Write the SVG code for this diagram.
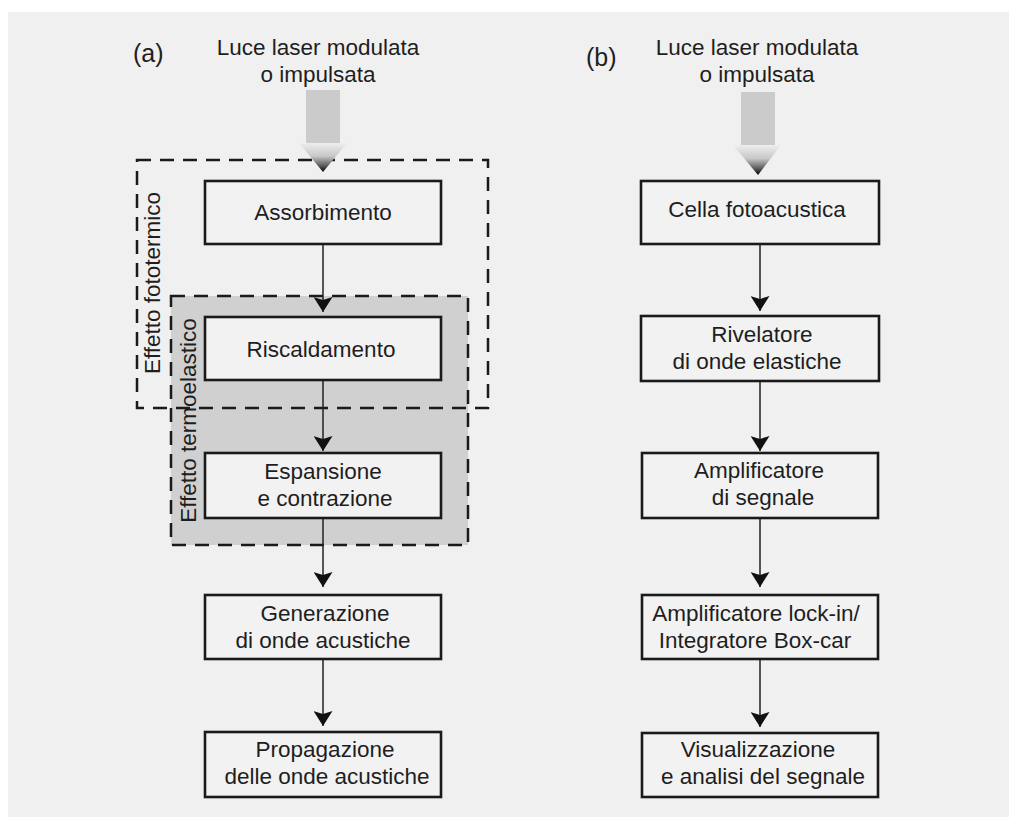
<svg xmlns="http://www.w3.org/2000/svg" width="1009" height="817" viewBox="0 0 1009 817">
<defs>
<style>
.t{font-family:"Liberation Sans",Arial,sans-serif;font-size:22.5px;fill:#1e1e1e;text-anchor:middle}
.lbl{font-family:"Liberation Sans",Arial,sans-serif;font-size:25px;fill:#1e1e1e}
.box{fill:#f2f2f2;stroke:#1a1a1a;stroke-width:2.6}
.dash{fill:none;stroke:#1a1a1a;stroke-width:2.5;stroke-dasharray:14 9}
.conn{stroke:#222;stroke-width:1.5;fill:none;marker-end:url(#ah)}
.shaft{fill:#cbcbcb}
</style>
<marker id="ah" viewBox="0 0 15 19" refX="15" refY="9.5" markerWidth="15" markerHeight="19" markerUnits="userSpaceOnUse" orient="auto">
<path d="M0,0 L15,9.5 L0,19 L3,9.5 Z" fill="#111"/>
</marker>
<linearGradient id="headg" x1="0" y1="0" x2="0" y2="1">
<stop offset="0" stop-color="#eeeeee"/>
<stop offset="0.45" stop-color="#c8c8c8"/>
<stop offset="0.8" stop-color="#555555"/>
<stop offset="1" stop-color="#000000"/>
</linearGradient>
</defs>
<rect x="0" y="0" width="1009" height="817" fill="#ffffff"/>
<rect x="8" y="12" width="1001" height="805" fill="#f0f0f0"/>

<g id="group-termoelastico">
<rect x="171" y="296" width="297" height="249" fill="#d0d0d0"/>
<rect x="171" y="296" width="297" height="249" class="dash"/>
<text class="t" transform="translate(196,420.5) rotate(-90)">Effetto termoelastico</text>
</g>
<g id="group-fototermico">
<rect x="137" y="160" width="351" height="248" class="dash"/>
<text class="t" transform="translate(160,283) rotate(-90)">Effetto fototermico</text>
</g>

<text class="lbl" x="133" y="62">(a)</text>
<text class="lbl" x="586" y="66">(b)</text>

<g id="input-a">
<text class="t" x="318" y="55">Luce laser modulata</text>
<text class="t" x="318" y="82">o impulsata</text>
<rect class="shaft" x="306" y="90" width="34" height="53"/>
<polygon points="299,143 347,143 323,172" fill="url(#headg)"/>
</g>
<g id="input-b">
<text class="t" x="757" y="55">Luce laser modulata</text>
<text class="t" x="757" y="82">o impulsata</text>
<rect class="shaft" x="741" y="92" width="34" height="53"/>
<polygon points="733,145 781,145 758,175" fill="url(#headg)"/>
</g>

<g id="connectors">
<line class="conn" x1="323" y1="245" x2="323" y2="312"/>
<line class="conn" x1="323" y1="380" x2="323" y2="451"/>
<line class="conn" x1="323" y1="518" x2="323" y2="587"/>
<line class="conn" x1="323" y1="659" x2="323" y2="726"/>
<line class="conn" x1="760" y1="244" x2="760" y2="311"/>
<line class="conn" x1="760" y1="381" x2="760" y2="451"/>
<line class="conn" x1="760" y1="518" x2="760" y2="587"/>
<line class="conn" x1="760" y1="659" x2="760" y2="727"/>
</g>

<g id="assorbimento">
<rect class="box" x="205" y="181" width="236" height="63"/>
<text class="t" x="323" y="220">Assorbimento</text>
</g>
<g id="riscaldamento">
<rect class="box" x="205" y="317" width="236" height="63"/>
<text class="t" x="321" y="357">Riscaldamento</text>
</g>
<g id="espansione">
<rect class="box" x="205" y="453" width="236" height="65"/>
<text class="t" x="323" y="479">Espansione</text>
<text class="t" x="325" y="506">e contrazione</text>
</g>
<g id="generazione">
<rect class="box" x="205" y="595" width="236" height="64"/>
<text class="t" x="325" y="621">Generazione</text>
<text class="t" x="323" y="648">di onde acustiche</text>
</g>
<g id="propagazione">
<rect class="box" x="205" y="732" width="236" height="65"/>
<text class="t" x="325" y="757">Propagazione</text>
<text class="t" x="327" y="784">delle onde acustiche</text>
</g>

<g id="cella">
<rect class="box" x="641" y="181" width="238" height="63"/>
<text class="t" x="757" y="217">Cella fotoacustica</text>
</g>
<g id="rivelatore">
<rect class="box" x="641" y="316" width="238" height="65"/>
<text class="t" x="762" y="342">Rivelatore</text>
<text class="t" x="757" y="369">di onde elastiche</text>
</g>
<g id="amplificatore">
<rect class="box" x="642" y="453" width="236" height="65"/>
<text class="t" x="759" y="478">Amplificatore</text>
<text class="t" x="763" y="505">di segnale</text>
</g>
<g id="lockin">
<rect class="box" x="642" y="595" width="236" height="64"/>
<text class="t" x="756" y="621">Amplificatore lock-in/</text>
<text class="t" x="755" y="648">Integratore Box-car</text>
</g>
<g id="visualizzazione">
<rect class="box" x="642" y="733" width="236" height="64"/>
<text class="t" x="758" y="757">Visualizzazione</text>
<text class="t" x="763" y="784">e analisi del segnale</text>
</g>
</svg>
